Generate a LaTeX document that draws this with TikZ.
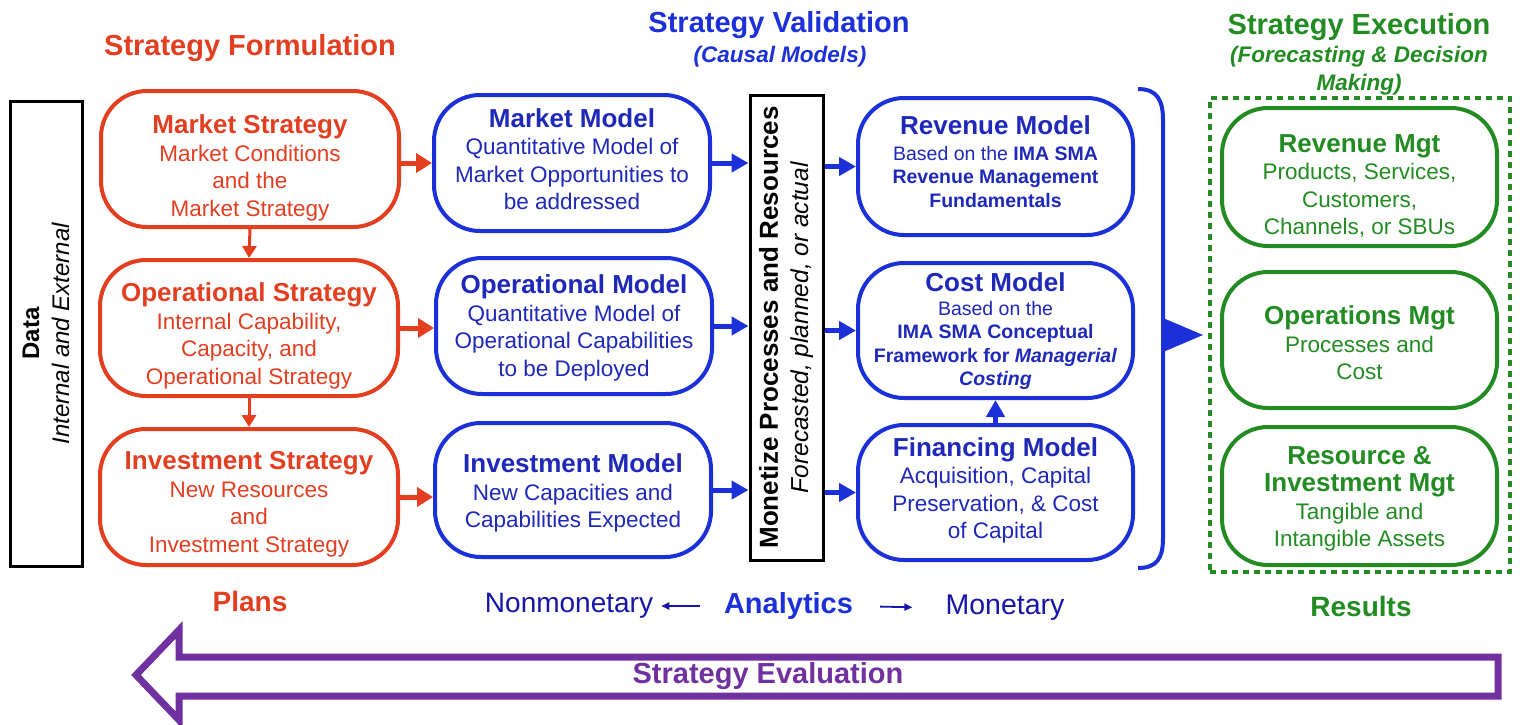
\documentclass[tikz,border=0pt]{standalone}
\usepackage{fontspec}
\setmainfont{Liberation Sans}
\usetikzlibrary{arrows.meta}
\definecolor{cred}{RGB}{228,62,32}
\definecolor{cblue}{RGB}{28,48,218}
\definecolor{ctblue}{RGB}{30,40,185}
\definecolor{cnavy}{RGB}{22,22,170}
\definecolor{cgreen}{RGB}{34,140,34}
\definecolor{cpurple}{RGB}{112,48,160}
\newcommand\boxtitle[1]{{\bfseries\fontsize{26}{29}\selectfont #1}}
\tikzset{
  basebox/.style={line width=4pt, rounded corners=46pt, inner sep=0pt},
  rbox/.style={basebox, draw=cred, minimum width=298pt, minimum height=136pt},
  bbox/.style={basebox, draw=cblue, minimum width=276pt, minimum height=136pt},
  gbox/.style={basebox, draw=cgreen, minimum width=275pt, minimum height=137pt},
  btext/.style={align=center, inner sep=0pt, font=\fontsize{22.5}{27.5}\selectfont},
  rtxt/.style={btext, text=cred},
  btxt/.style={btext, text=ctblue},
  gtxt/.style={btext, text=cgreen},
  blkbox/.style={draw=black, line width=3pt, inner sep=0pt},
  vtext/.style={rotate=90, align=center, inner sep=0pt},
  redarr/.style={draw=cred, line width=5pt, -{Triangle[length=16pt,width=19pt]}},
  redvarr/.style={draw=cred, line width=3pt, -{Triangle[length=12pt,width=14pt]}},
  bluearr/.style={draw=cblue, line width=5pt, -{Triangle[length=17pt,width=18pt]}},
  thinarr/.style={draw=cnavy, line width=1.8pt, -{Triangle[length=8pt,width=7pt]}},
  hdr/.style={font=\bfseries\fontsize{29}{34}\selectfont, inner sep=0pt},
  sub/.style={font=\bfseries\itshape\fontsize{22.5}{28}\selectfont, inner sep=0pt, align=center},
  lbl/.style={inner sep=0pt}
}
\begin{document}
\begin{tikzpicture}[x=1pt,y=-1pt]
\path[use as bounding box, fill=white] (0,0) rectangle (1522,724);

% headers
\node[hdr, text=cred] (hform) at (250,48) {Strategy Formulation};
\node[hdr, text=cblue] (hval) at (779,25) {Strategy Validation};
\node[sub, text=cblue] (hcausal) at (780,57) {(Causal Models)};
\node[hdr, text=cgreen] (hexec) at (1359,27) {Strategy Execution};
\node[sub, text=cgreen] (hfore) at (1359,71) {(Forecasting \& Decision\\Making)};

% data box
\node[blkbox, minimum width=72pt, minimum height=465pt] (data) at (46,333.5) {};
\node[vtext, font=\fontsize{24}{30}\selectfont] (datatxt) at (data.center)
  {\textbf{Data}\\\textit{Internal and External}};

% red strategy boxes
\node[rbox] (ms) at (250,159) {};
\node[rtxt] (mst) at ([yshift=-9pt]ms.center) {\boxtitle{Market Strategy}\\Market Conditions\\and the\\Market Strategy};
\node[rbox] (os) at (249,328) {};
\node[rtxt] (ost) at ([yshift=-8pt]os.center) {\boxtitle{Operational Strategy}\\Internal Capability,\\Capacity, and\\Operational Strategy};
\node[rbox] (is) at (249,497) {};
\node[rtxt] (ist) at ([yshift=-7pt]is.center) {\boxtitle{Investment Strategy}\\New Resources\\and\\Investment Strategy};

% blue model boxes (left)
\node[bbox] (mm) at (572,163) {};
\node[btxt] (mmt) at ([yshift=4pt]mm.center) {\boxtitle{Market Model}\\Quantitative Model of\\Market Opportunities to\\be addressed};
\node[bbox] (om) at (574,326) {};
\node[btxt] (omt) at ([yshift=-2pt]om.center) {\boxtitle{Operational Model}\\Quantitative Model of\\Operational Capabilities\\to be Deployed};
\node[bbox, minimum height=134pt] (im) at (573,490) {};
\node[btxt] (imt) at ([yshift=-3pt]im.center) {\boxtitle{Investment Model}\\New Capacities and\\Capabilities Expected};

% monetize box
\node[blkbox, minimum width=73pt, minimum height=465pt] (mon) at (786.5,327.5) {};
\node[vtext, font=\fontsize{24.5}{31}\selectfont] (montxt) at (mon.center)
  {\boxtitle{Monetize Processes and Resources}\\\textit{Forecasted, planned, or actual}};

% blue model boxes (right)
\node[bbox, minimum width=275pt, minimum height=137pt] (rev) at (995.5,166.5) {};
\node[btxt, font=\fontsize{19.5}{23.5}\selectfont] (revt) at ([yshift=5pt]rev.center)
  {\boxtitle{Revenue Model}\\[2.5pt]Based on the \textbf{IMA SMA}\\\textbf{Revenue Management}\\\textbf{Fundamentals}};
\node[bbox, minimum width=275pt, minimum height=135pt] (cost) at (995.5,330.5) {};
\node[btxt, font=\fontsize{19.5}{23.5}\selectfont] (costt) at ([yshift=-1pt]cost.center)
  {\boxtitle{Cost Model}\\Based on the\\\textbf{IMA SMA Conceptual}\\\textbf{Framework for \textit{Managerial}}\\\textbf{\textit{Costing}}};
\node[bbox, minimum width=275pt, minimum height=135pt] (fin) at (995.5,492.5) {};
\node[btxt] (fint) at ([yshift=2pt]fin.center)
  {\boxtitle{Financing Model}\\Acquisition, Capital\\Preservation, \& Cost\\of Capital};

% execution dashed frame
\node[draw=cgreen, line width=3.5pt, dash pattern=on 6pt off 5pt, minimum width=300pt, minimum height=474pt, inner sep=0pt] (exe) at (1360,335) {};

% green boxes
\node[gbox, minimum height=138pt] (rm) at (1359.5,177) {};
\node[gtxt] (rmt) at ([yshift=-9pt]rm.center) {\boxtitle{Revenue Mgt}\\Products, Services,\\Customers,\\Channels, or SBUs};
\node[gbox, minimum height=136pt] (opm) at (1359.5,340) {};
\node[gtxt] (opmt) at ([yshift=-3pt]opm.center) {\boxtitle{Operations Mgt}\\Processes and\\Cost};
\node[gbox, minimum height=138pt] (rim) at (1359.5,496) {};
\node[gtxt] (rimt) at ([yshift=-3pt]rim.center) {\boxtitle{Resource \&}\\\boxtitle{Investment Mgt}\\Tangible and\\Intangible Assets};

% red arrows
\draw[redarr] (ms.east |- mm.west) -- (mm.west);
\draw[redarr] (os.east) -- (os.east -| om.west);
\draw[redarr] (is.east) -- (is.east -| im.west);
\draw[redvarr] (ms.south) -- (os.north);
\draw[redvarr] (os.south) -- (is.north);

% blue arrows
\draw[bluearr] (mm.east) -- (mm.east -| mon.west);
\draw[bluearr] (om.east) -- (om.east -| mon.west);
\draw[bluearr] (im.east) -- (im.east -| mon.west);
\draw[bluearr] (mon.east |- rev.west) -- (rev.west);
\draw[bluearr] (mon.east |- cost.west) -- (cost.west);
\draw[bluearr] (mon.east |- fin.west) -- (fin.west);
\draw[bluearr] (fin.north) -- (cost.south);

% brace and triangle
\draw[cblue, line width=4pt] (1138,89) .. controls (1157,89) and (1163,100) .. (1163,120)
  -- (1163,538) .. controls (1163,558) and (1157,568) .. (1138,568);
\fill[cblue] (1163,318) -- (1203,335) -- (1163,352) -- cycle;

% bottom labels
\node[hdr, font=\bfseries\fontsize{28}{32}\selectfont, text=cred] (plans) at (250,601) {Plans};
\node[lbl, font=\fontsize{28}{32}\selectfont, text=cnavy] (nonmon) at (569,606) {Nonmonetary};
\node[lbl, font=\bfseries\fontsize{29}{34}\selectfont, text=cblue] (ana) at (788.5,606) {Analytics};
\node[lbl, font=\fontsize{28.5}{32}\selectfont, text=cnavy] (monet) at (1005,608) {Monetary};
\node[hdr, font=\bfseries\fontsize{28}{32}\selectfont, text=cgreen] (res) at (1361,606) {Results};
\draw[thinarr, shorten <=24pt, shorten >=8pt] (ana.west) -- (nonmon.east);
\draw[thinarr, shorten <=27pt, shorten >=33pt] (ana.east) -- (monet.west);

% strategy evaluation arrow
\draw[cpurple, line width=7pt, line join=miter, miter limit=10]
  (136,675) -- (179,630) -- (179,657) -- (1498,657) -- (1498,696) -- (179,696) -- (179,720) -- cycle;
\node[hdr, text=cpurple] (evalu) at (768,676) {Strategy Evaluation};
\end{tikzpicture}
\end{document}
